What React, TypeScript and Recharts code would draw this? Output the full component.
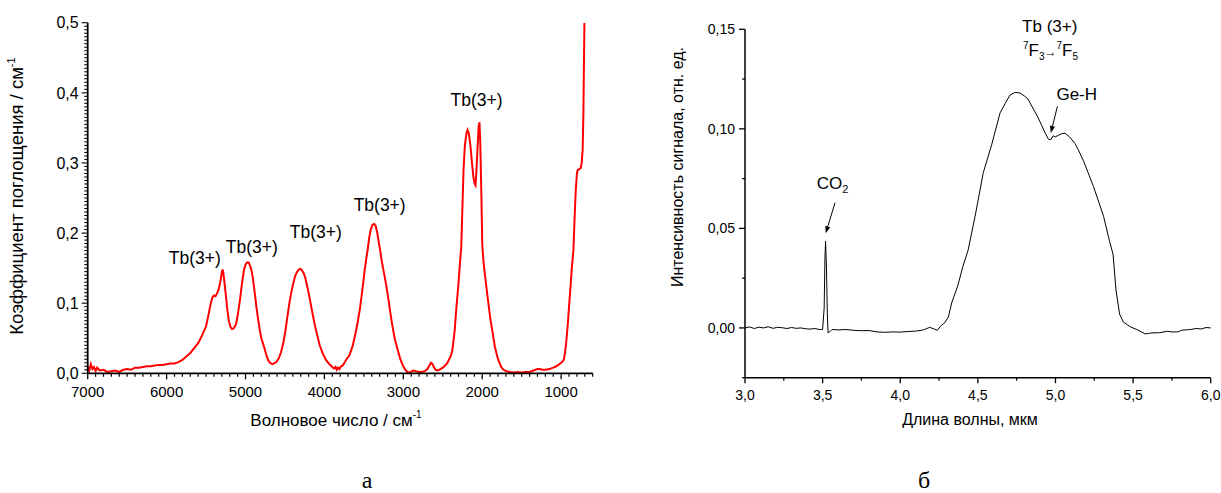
import React from 'react';
import { LineChart, Line, XAxis, YAxis, ReferenceDot, ReferenceLine } from 'recharts';

const SANS = '"Liberation Sans", Arial, sans-serif';
const SERIF = '"Liberation Serif", "Times New Roman", serif';

// (а) absorption spectrum: wavenumber, cm-1
const wavenumber = [
  7000, 6980, 6960, 6940, 6920, 6900, 6880, 6850, 6800, 6750,
  6700, 6650, 6600, 6550, 6500, 6450, 6400, 6350, 6300, 6250,
  6200, 6150, 6100, 6050, 6000, 5950, 5900, 5850, 5800, 5750,
  5700, 5650, 5600, 5550, 5500, 5470, 5440, 5420, 5400, 5380,
  5360, 5340, 5320, 5300, 5290, 5280, 5265, 5250, 5230, 5210,
  5190, 5170, 5150, 5120, 5100, 5070, 5040, 5020, 5000, 4980,
  4960, 4940, 4920, 4900, 4880, 4860, 4840, 4820, 4800, 4780,
  4755, 4730, 4710, 4690, 4660, 4640, 4610, 4580, 4550, 4520,
  4495, 4470, 4440, 4420, 4400, 4370, 4340, 4310, 4290, 4260,
  4240, 4210, 4180, 4150, 4120, 4095, 4060, 4020, 3980, 3945,
  3910, 3880, 3860, 3845, 3830, 3810, 3790, 3770, 3740, 3710,
  3690, 3660, 3640, 3610, 3580, 3550, 3520, 3490, 3470, 3450,
  3430, 3410, 3390, 3370, 3350, 3330, 3310, 3295, 3270, 3250,
  3220, 3190, 3160, 3145, 3110, 3070, 3040, 3010, 2980, 2950,
  2920, 2890, 2870, 2840, 2800, 2770, 2730, 2695, 2670, 2650,
  2630, 2610, 2590, 2560, 2530, 2500, 2470, 2440, 2420, 2400,
  2380, 2365, 2350, 2330, 2300, 2280, 2266, 2250, 2237, 2220,
  2200, 2186, 2170, 2150, 2130, 2110, 2095, 2085, 2075, 2060,
  2045, 2035, 2025, 2010, 2000, 1985, 1960, 1942, 1920, 1900,
  1867, 1840, 1810, 1792, 1760, 1730, 1692, 1650, 1600, 1550,
  1500, 1450, 1400, 1350, 1300, 1270, 1240, 1200, 1150, 1100,
  1060, 1025, 1000, 980, 965, 950, 935, 915, 900, 880,
  865, 844, 830, 815, 800, 790, 770, 750, 740, 727,
  718, 712, 705,
];
// absorption coefficient, cm-1
const absorption = [
  0.010, 0.004, 0.013, 0.006, 0.009, 0.003, 0.008, 0.004, 0.005, 0.002,
  0.003, 0.004, 0.002, 0.005, 0.006, 0.005, 0.008, 0.008, 0.009, 0.010,
  0.010, 0.011, 0.012, 0.012, 0.013, 0.014, 0.014, 0.016, 0.019, 0.024,
  0.029, 0.036, 0.043, 0.054, 0.067, 0.083, 0.100, 0.108, 0.111, 0.110,
  0.114, 0.120, 0.130, 0.144, 0.148, 0.142, 0.128, 0.112, 0.090, 0.074,
  0.066, 0.063, 0.064, 0.070, 0.082, 0.105, 0.132, 0.147, 0.155, 0.158,
  0.158, 0.153, 0.145, 0.130, 0.112, 0.093, 0.077, 0.062, 0.050, 0.043,
  0.034, 0.024, 0.018, 0.015, 0.013, 0.014, 0.016, 0.021, 0.030, 0.044,
  0.060, 0.080, 0.103, 0.115, 0.126, 0.139, 0.146, 0.149, 0.148, 0.142,
  0.135, 0.120, 0.103, 0.085, 0.068, 0.056, 0.040, 0.028, 0.019, 0.014,
  0.010, 0.007, 0.009, 0.005, 0.008, 0.006, 0.010, 0.011, 0.016, 0.022,
  0.024, 0.033, 0.040, 0.055, 0.072, 0.092, 0.118, 0.147, 0.163, 0.178,
  0.195, 0.206, 0.212, 0.213, 0.210, 0.200, 0.186, 0.176, 0.158, 0.146,
  0.128, 0.106, 0.083, 0.072, 0.050, 0.033, 0.021, 0.012, 0.006, 0.002,
  0.001, 0.003, 0.004, 0.003, 0.002, 0.002, 0.003, 0.006, 0.011, 0.015,
  0.013, 0.008, 0.005, 0.004, 0.006, 0.008, 0.011, 0.015, 0.020, 0.024,
  0.032, 0.045, 0.060, 0.090, 0.130, 0.160, 0.180, 0.240, 0.290, 0.325,
  0.342, 0.347, 0.342, 0.325, 0.300, 0.278, 0.270, 0.268, 0.285, 0.320,
  0.352, 0.358, 0.330, 0.250, 0.185, 0.160, 0.135, 0.118, 0.098, 0.080,
  0.057, 0.038, 0.024, 0.018, 0.009, 0.005, 0.003, 0.002, 0.001, 0.002,
  0.001, 0.002, 0.002, 0.004, 0.006, 0.006, 0.005, 0.005, 0.006, 0.008,
  0.010, 0.013, 0.015, 0.017, 0.020, 0.030, 0.045, 0.071, 0.095, 0.125,
  0.150, 0.176, 0.220, 0.260, 0.285, 0.290, 0.291, 0.293, 0.300, 0.319,
  0.370, 0.430, 0.500,
];

// (б) signal: wavelength, µm
const wavelength = [
  3.00, 3.03, 3.06, 3.09, 3.12, 3.15, 3.18, 3.21, 3.24, 3.27,
  3.30, 3.33, 3.36, 3.39, 3.42, 3.45, 3.48, 3.50, 3.51, 3.515,
  3.519, 3.525, 3.53, 3.535, 3.545, 3.56, 3.60, 3.65, 3.70, 3.75,
  3.80, 3.85, 3.90, 3.95, 4.00, 4.05, 4.10, 4.15, 4.19, 4.22,
  4.24, 4.26, 4.286, 4.31, 4.333, 4.37, 4.404, 4.437, 4.482, 4.535,
  4.589, 4.643, 4.675, 4.707, 4.74, 4.772, 4.80, 4.823, 4.85, 4.879,
  4.91, 4.933, 4.955, 4.97, 4.985, 5.00, 5.02, 5.04, 5.062, 5.09,
  5.126, 5.15, 5.18, 5.21, 5.245, 5.28, 5.31, 5.347, 5.371, 5.39,
  5.413, 5.437, 5.483, 5.53, 5.577, 5.60, 5.62, 5.67, 5.72, 5.75,
  5.79, 5.81, 5.836, 5.87, 5.906, 5.94, 5.97, 6.00,
];
// signal intensity, rel. units
const intensity = [
  0.0000, 0.0005, -0.0003, 0.0004, 0.0000, 0.0006, -0.0002, 0.0003, 0.0001, -0.0003,
  0.0002, -0.0002, 0.0000, -0.0004, -0.0006, -0.0003, -0.0008, -0.0008, 0.0100, 0.0350,
  0.0435, 0.0300, 0.0080, -0.0025, -0.0020, -0.0008, -0.0010, -0.0008, -0.0012, -0.0014,
  -0.0013, -0.0020, -0.0022, -0.0020, -0.0021, -0.0018, -0.0016, -0.0010, 0.0003, -0.0006,
  -0.0012, 0.0010, 0.0025, 0.0055, 0.0130, 0.0210, 0.0310, 0.0390, 0.0560, 0.0780,
  0.0920, 0.1080, 0.1126, 0.1170, 0.1183, 0.1180, 0.1165, 0.1150, 0.1110, 0.1070,
  0.1020, 0.0980, 0.0948, 0.0945, 0.0965, 0.0960, 0.0968, 0.0975, 0.0978, 0.0960,
  0.0926, 0.0890, 0.0840, 0.0780, 0.0710, 0.0630, 0.0560, 0.0440, 0.0370, 0.0190,
  0.0070, 0.0030, 0.0005, -0.0010, -0.0030, -0.0028, -0.0025, -0.0024, -0.0017, -0.0020,
  -0.0020, -0.0012, -0.0010, -0.0008, -0.0003, -0.0005, 0.0002, 0.0000,
];

// tick labels
const absXLabels = [7000, 6000, 5000, 4000, 3000, 2000, 1000];
const absYLabels = [0, 0.1, 0.2, 0.3, 0.4, 0.5];
const sigXLabels = [3, 3.5, 4, 4.5, 5, 5.5, 6];
const sigYLabels = [0, 0.05, 0.1, 0.15];

// minor tick grids
const absXTicks = Array.from({ length: 65 }, (_, i) => 7000 - i * 100);
const absYTicks = Array.from({ length: 101 }, (_, i) => (i * 5) / 1000);
const sigXTicks = Array.from({ length: 13 }, (_, i) => 3 + i * 0.25);
const sigYTicks = Array.from({ length: 8 }, (_, i) => Math.round((-0.025 + i * 0.025) * 1000) / 1000);

// annotations (data coordinates of text baselines)
const absPeakLabels = [
  { x: 5642, y: 0.1556 },
  { x: 4920, y: 0.1713 },
  { x: 4110, y: 0.1927 },
  { x: 3300, y: 0.2313 },
  { x: 2072, y: 0.3813 },
];

const absData = wavenumber.map((x, i) => ({ x, y: absorption[i] }));
const sigData = wavelength.map((x, i) => ({ x, y: intensity[i] }));

const fmt = (v: number, digits: number) => (digits === 0 ? String(v) : v.toFixed(digits).replace('.', ','));
const inList = (v: number, list: number[]) => list.some((m) => Math.abs(m - v) < 1e-9);

// the axis draws the short (minor) tick line; majors get an extra bit plus the label
const BottomTick = (p: any) => {
  const { payload, labels, digits, extra, fontSize, offset, sw } = p;
  const x = Number(p.x);
  const y = Number(p.y);
  if (!inList(payload.value, labels)) return <g />;
  return (
    <g>
      <line x1={x} y1={y - 0.5} x2={x} y2={y + extra} stroke="#000" strokeWidth={sw} />
      <text x={x} y={y + offset} textAnchor="middle" fontSize={fontSize} fontFamily={SANS} fill="#000">
        {fmt(payload.value, digits)}
      </text>
    </g>
  );
};

const LeftTick = (p: any) => {
  const { payload, labels, digits, extra, fontSize, gap, sw } = p;
  const x = Number(p.x);
  const y = Number(p.y);
  if (!inList(payload.value, labels)) return <g />;
  return (
    <g>
      <line x1={x - extra} y1={y} x2={x + 0.5} y2={y} stroke="#000" strokeWidth={sw} />
      <text x={x - extra - gap} y={y + fontSize * 0.36} textAnchor="end" fontSize={fontSize} fontFamily={SANS} fill="#000">
        {fmt(payload.value, digits)}
      </text>
    </g>
  );
};

const Arrow = (p: any) => {
  const { x1, y1, x2, y2 } = p;
  const a = Math.atan2(y2 - y1, x2 - x1);
  const len = 7;
  const w = 2.6;
  const bx = x2 - len * Math.cos(a);
  const by = y2 - len * Math.sin(a);
  const pts = `${x2},${y2} ${bx + w * Math.sin(a)},${by - w * Math.cos(a)} ${bx - w * Math.sin(a)},${by + w * Math.cos(a)}`;
  return (
    <g>
      <line x1={x1} y1={y1} x2={bx} y2={by} stroke="#000" strokeWidth={1} />
      <polygon points={pts} fill="#000" />
    </g>
  );
};

const annoText = (content: React.ReactNode, size = 17) => (p: any) => (
  <text x={p.cx} y={p.cy} textAnchor="middle" fontSize={size} fontFamily={SANS} fill="#000">
    {content}
  </text>
);

function AbsorptionChart() {
  return (
    <LineChart
      width={610}
      height={493}
      data={absData}
      margin={{ top: 22.7, right: 17.3, bottom: 89.7, left: 27.7 }}
    >
      <XAxis
        type="number"
        dataKey="x"
        domain={[600, 7000]}
        reversed
        ticks={absXTicks}
        interval={0}
        stroke="#000"
        tickSize={3.5}
        tickMargin={0}
        tickLine={{ stroke: '#000', strokeWidth: 1.2 }}
        height={30}
        axisLine={{ stroke: '#000', strokeWidth: 1.8 }}
        tick={(p: any) => (
          <BottomTick {...p} labels={absXLabels} digits={0} extra={2.5} fontSize={15} offset={20} sw={1.3} />
        )}
        label={() => (
          <g fontFamily={SANS} fill="#000">
            <text x={336} y={426} textAnchor="middle" fontSize={17}>
              Волновое число / см<tspan fontSize={10} dy={-8}>-1</tspan>
            </text>
            <text x={367} y={488} textAnchor="middle" fontSize={24} fontFamily={SERIF}>а</text>
          </g>
        )}
      />
      <YAxis
        type="number"
        domain={[0, 0.5]}
        ticks={absYTicks}
        interval={0}
        stroke="#000"
        tickSize={3.5}
        tickMargin={0}
        tickLine={{ stroke: '#000', strokeWidth: 1 }}
        width={60}
        allowDataOverflow
        axisLine={{ stroke: '#000', strokeWidth: 1.8 }}
        tick={(p: any) => (
          <LeftTick {...p} labels={absYLabels} digits={1} extra={2.5} fontSize={16} gap={3} sw={1.1} />
        )}
        label={() => (
          <text
            x={23}
            y={196}
            transform="rotate(-90, 23, 196)"
            textAnchor="middle"
            fontSize={18.5}
            fontFamily={SANS}
            fill="#000"
          >
            Коэффициент поглощения / см<tspan fontSize={11} dy={-8}>-1</tspan>
          </text>
        )}
      />
      <Line type="linear" dataKey="y" stroke="#ff0000" strokeWidth={2} dot={false} isAnimationActive={false} />
      {absPeakLabels.map((a, i) => (
        <ReferenceDot key={i} x={a.x} y={a.y} r={1} ifOverflow="visible" shape={annoText('Tb(3+)', 17.5)} />
      ))}
    </LineChart>
  );
}

function SignalChart() {
  return (
    <LineChart
      width={611}
      height={493}
      data={sigData}
      margin={{ top: 29.3, right: 10.3, bottom: 85.3, left: 75 }}
    >
      <XAxis
        type="number"
        dataKey="x"
        domain={[3, 6]}
        ticks={sigXTicks}
        interval={0}
        stroke="#000"
        tickSize={3}
        tickMargin={0}
        tickLine={{ stroke: '#000', strokeWidth: 1.2 }}
        height={30}
        axisLine={{ stroke: '#000', strokeWidth: 1.5 }}
        tick={(p: any) => (
          <BottomTick {...p} labels={sigXLabels} digits={1} extra={2.5} fontSize={14} offset={19} sw={1.3} />
        )}
        label={() => (
          <g fontFamily={SANS} fill="#000">
            <text x={360} y={425} textAnchor="middle" fontSize={16}>Длина волны, мкм</text>
            <text x={314} y={488} textAnchor="middle" fontSize={24} fontFamily={SERIF}>б</text>
          </g>
        )}
      />
      <YAxis
        type="number"
        domain={[-0.025, 0.15]}
        ticks={sigYTicks}
        interval={0}
        stroke="#000"
        tickSize={3}
        tickMargin={0}
        tickLine={{ stroke: '#000', strokeWidth: 1.2 }}
        width={60}
        allowDataOverflow
        axisLine={{ stroke: '#000', strokeWidth: 1.5 }}
        tick={(p: any) => (
          <LeftTick {...p} labels={sigYLabels} digits={2} extra={3} fontSize={14} gap={4} sw={1.3} />
        )}
        label={() => (
          <text
            x={73}
            y={167}
            transform="rotate(-90, 73, 167)"
            textAnchor="middle"
            fontSize={16}
            fontFamily={SANS}
            fill="#000"
          >
            Интенсивность сигнала, отн. ед.
          </text>
        )}
      />
      <Line type="linear" dataKey="y" stroke="#000" strokeWidth={1} dot={false} isAnimationActive={false} />
      <ReferenceDot
        x={3.5638}
        y={0.0698}
        r={1}
        ifOverflow="visible"
        shape={annoText(<>CO<tspan fontSize={11} dy={4}>2</tspan></>)}
      />
      <ReferenceLine segment={[{ x: 3.58, y: 0.0629 }, { x: 3.52, y: 0.0476 }]} shape={Arrow} />
      <ReferenceDot x={4.963} y={0.1486} r={1} ifOverflow="visible" shape={annoText('Tb (3+)')} />
      <ReferenceDot
        x={4.968}
        y={0.1368}
        r={1}
        ifOverflow="visible"
        shape={annoText(
          <>
            <tspan fontSize={10} dy={-7}>7</tspan>
            <tspan dy={7}>F</tspan>
            <tspan fontSize={10} dy={4}>3</tspan>
            <tspan fontSize={12} dy={-4}>→</tspan>
            <tspan fontSize={10} dy={-7}>7</tspan>
            <tspan dy={7}>F</tspan>
            <tspan fontSize={10} dy={4}>5</tspan>
          </>
        )}
      />
      <ReferenceDot x={5.137} y={0.1143} r={1} ifOverflow="visible" shape={annoText('Ge-H')} />
      <ReferenceLine segment={[{ x: 5.0125, y: 0.1113 }, { x: 4.97, y: 0.0979 }]} shape={Arrow} />
    </LineChart>
  );
}

export default function App() {
  return (
    <div style={{ position: 'absolute', left: 0, top: 0, width: 1221, height: 493, background: '#fff' }}>
      <div style={{ position: 'absolute', left: 0, top: 0 }}>
        <AbsorptionChart />
      </div>
      <div style={{ position: 'absolute', left: 610, top: 0 }}>
        <SignalChart />
      </div>
    </div>
  );
}
